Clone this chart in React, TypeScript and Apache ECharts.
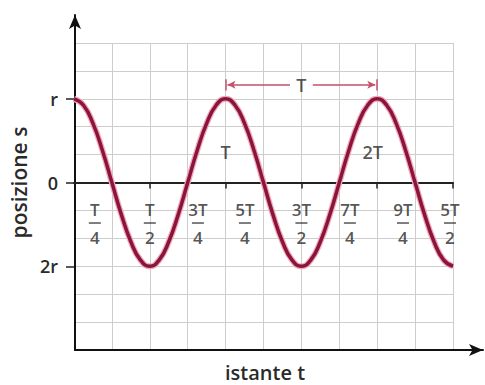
import React, { useEffect, useRef } from "react";
import * as echarts from "echarts";

// x in units of T/4 (one grid cell), y in units of r/3 (one grid cell)
const curveT = [
  0, 0.25, 0.5, 0.75, 1, 1.25, 1.5, 1.75, 2, 2.25, 2.5, 2.75, 3, 3.25, 3.5, 3.75,
  4, 4.25, 4.5, 4.75, 5, 5.25, 5.5, 5.75, 6, 6.25, 6.5, 6.75, 7, 7.25, 7.5, 7.75,
  8, 8.25, 8.5, 8.75, 9, 9.25, 9.5, 9.75, 10,
];
const curveS = [
  3, 2.77, 2.12, 1.15, 0, -1.15, -2.12, -2.77, -3, -2.77, -2.12, -1.15, 0, 1.15, 2.12, 2.77,
  3, 2.77, 2.12, 1.15, 0, -1.15, -2.12, -2.77, -3, -2.77, -2.12, -1.15, 0, 1.15, 2.12, 2.77,
  3, 2.77, 2.12, 1.15, 0, -1.15, -2.12, -2.77, -3,
];

const fracNum = ["T", "T", "3T", "5T", "3T", "7T", "9T", "5T"];
const fracDen = ["4", "2", "4", "4", "2", "4", "4", "2"];
const fracX = [0.55, 2, 3.27, 4.51, 6, 7.28, 8.68, 9.92];
const fracY = [-1.45, -1.45, -1.45, -1.45, -1.45, -1.45, -1.45, -1.45];

const yTickValues = [-3, 0, 3];
const yTickLabels = ["2r", "0", "r"];
const xTickValues = [2, 4, 6, 8, 10];

const periodLabels = ["T", "2T"];
const periodX = [4, 7.88];
const periodY = [1.1, 1.1];

const spanStart = 4;
const spanEnd = 8;
const spanY = 3.5;
const spanLabel = "T";

const FONT = "'Open Sans', 'Noto Sans', sans-serif";
const TEXT = "#2a2a2a";
const GRIDC = "#cdcdcd";
const W = 600;

export default function App() {
  const ref = useRef<HTMLDivElement>(null);
  useEffect(() => {
    if (!ref.current) return;
    const chart = echarts.init(ref.current, undefined, { renderer: "svg" });
    const curve = curveT.map((t, i) => [t, curveS[i]]);
    const mid = (spanStart + spanEnd) / 2;
    const arrowColor = "#c4506a";
    const hidden = { show: false };
    chart.setOption({
      animation: false,
      backgroundColor: "#ffffff",
      title: {
        text: "istante t",
        left: 265,
        top: 362,
        padding: 0,
        textAlign: "center",
        textStyle: { fontFamily: FONT, fontSize: 20, fontWeight: W, color: TEXT },
      },
      grid: [
        { left: 74, right: 32, top: 43, bottom: 35 },
        { left: 74, right: 2, top: 15, bottom: 35 },
      ],
      xAxis: [
        {
          // grid lines
          type: "value",
          gridIndex: 0,
          position: "bottom",
          min: 0,
          max: 10,
          interval: 1,
          axisLine: { show: false, onZero: false },
          axisTick: hidden,
          axisLabel: hidden,
          splitLine: { show: true, lineStyle: { color: GRIDC, width: 1 } },
        },
        {
          // zero line with ticks
          type: "value",
          gridIndex: 0,
          position: "bottom",
          min: 0,
          max: 10,
          axisLine: { show: true, onZero: true, onZeroAxisIndex: 0, lineStyle: { color: "#222", width: 2 } },
          axisTick: { show: true, customValues: xTickValues, length: 6, lineStyle: { color: "#222", width: 1.5 } },
          axisLabel: hidden,
          splitLine: hidden,
        },
        {
          type: "value",
          gridIndex: 1,
          min: 0,
          max: 1,
          axisLine: {
            show: true,
            onZero: false,
            symbol: ["none", "arrow"],
            symbolSize: [9, 14],
            lineStyle: { color: "#111", width: 2 },
          },
          axisTick: hidden,
          axisLabel: hidden,
          splitLine: hidden,
        },
      ],
      yAxis: [
        {
          // grid lines
          type: "value",
          gridIndex: 0,
          position: "left",
          min: -6,
          max: 5,
          interval: 1,
          axisLine: { show: false, onZero: false },
          axisTick: hidden,
          axisLabel: hidden,
          splitLine: { show: true, lineStyle: { color: GRIDC, width: 1 } },
        },
        {
          // ticks and labels
          type: "value",
          gridIndex: 0,
          position: "left",
          offset: 0,
          min: -6,
          max: 5,
          axisLine: { show: false, onZero: false },
          axisTick: { show: true, customValues: yTickValues, length: 8, lineStyle: { color: "#222", width: 1.5 } },
          axisLabel: {
            show: true,
            customValues: yTickValues,
            margin: 16,
            fontFamily: FONT,
            fontSize: 18,
            fontWeight: W,
            color: TEXT,
            formatter: (v: number) => {
              const i = yTickValues.indexOf(v);
              return i >= 0 ? yTickLabels[i] : "";
            },
          },
          splitLine: hidden,
        },
        {
          type: "value",
          gridIndex: 1,
          min: 0,
          max: 1,
          name: "posizione s",
          nameLocation: "middle",
          nameGap: 46,
          nameTextStyle: { fontFamily: FONT, fontSize: 21, fontWeight: W, color: TEXT },
          axisLine: {
            show: true,
            onZero: false,
            symbol: ["none", "arrow"],
            symbolSize: [9, 14],
            lineStyle: { color: "#111", width: 2 },
          },
          axisTick: hidden,
          axisLabel: hidden,
          splitLine: hidden,
        },
      ],
      series: [
        {
          type: "line",
          xAxisIndex: 0,
          yAxisIndex: 0,
          data: curve,
          smooth: true,
          showSymbol: false,
          silent: true,
          lineStyle: { color: "#f0a6bf", width: 6 },
          z: 3,
        },
        {
          type: "line",
          xAxisIndex: 0,
          yAxisIndex: 0,
          data: curve,
          smooth: true,
          showSymbol: false,
          silent: true,
          lineStyle: { color: "#8b1538", width: 3.5 },
          z: 4,
        },
        {
          type: "line",
          xAxisIndex: 0,
          yAxisIndex: 0,
          data: [],
          silent: true,
          markLine: {
            silent: true,
            animation: false,
            label: { show: false },
            lineStyle: { color: arrowColor, width: 1.5, type: "solid" },
            symbolSize: 7,
            data: [
              [
                { coord: [mid - 0.3, spanY], symbol: "none" },
                { coord: [spanStart + 0.05, spanY], symbol: "arrow", symbolSize: [6, 8] },
              ],
              [
                { coord: [mid + 0.3, spanY], symbol: "none" },
                { coord: [spanEnd - 0.05, spanY], symbol: "arrow", symbolSize: [6, 8] },
              ],
              [
                { coord: [spanStart, spanY - 0.2], symbol: "none" },
                { coord: [spanStart, spanY + 0.2], symbol: "none" },
              ],
              [
                { coord: [spanEnd, spanY - 0.2], symbol: "none" },
                { coord: [spanEnd, spanY + 0.2], symbol: "none" },
              ],
            ],
          },
        },
        {
          type: "scatter",
          xAxisIndex: 0,
          yAxisIndex: 0,
          symbolSize: 0,
          silent: true,
          z: 6,
          data: [
            ...periodX.map((x, i) => ({ value: [x, periodY[i]], name: periodLabels[i] })),
            { value: [mid, spanY], name: spanLabel },
          ],
          label: {
            show: true,
            position: "inside",
            formatter: (p: any) => p.name,
            fontFamily: FONT,
            fontSize: 18,
            fontWeight: W,
            color: TEXT,
          },
        },
        {
          type: "scatter",
          xAxisIndex: 0,
          yAxisIndex: 0,
          symbolSize: 0,
          silent: true,
          z: 6,
          data: fracX.map((x, i) => ({ value: [x, fracY[i]], name: String(i) })),
          label: {
            show: true,
            position: "inside",
            formatter: (p: any) =>
              `{n|${fracNum[p.dataIndex]}}\n{b|}\n{d|${fracDen[p.dataIndex]}}`,
            rich: {
              n: { fontFamily: FONT, fontSize: 17, fontWeight: W, color: TEXT, lineHeight: 18, align: "center" },
              b: { width: 12, height: 1.5, backgroundColor: TEXT, lineHeight: 10, align: "center" },
              d: { fontFamily: FONT, fontSize: 17, fontWeight: W, color: TEXT, lineHeight: 18, align: "center" },
            },
          },
        },
      ],
    });
    return () => chart.dispose();
  }, []);
  return (
    <div
      ref={ref}
      style={{ position: "absolute", left: 0, top: 0, width: 485, height: 385 }}
    />
  );
}
